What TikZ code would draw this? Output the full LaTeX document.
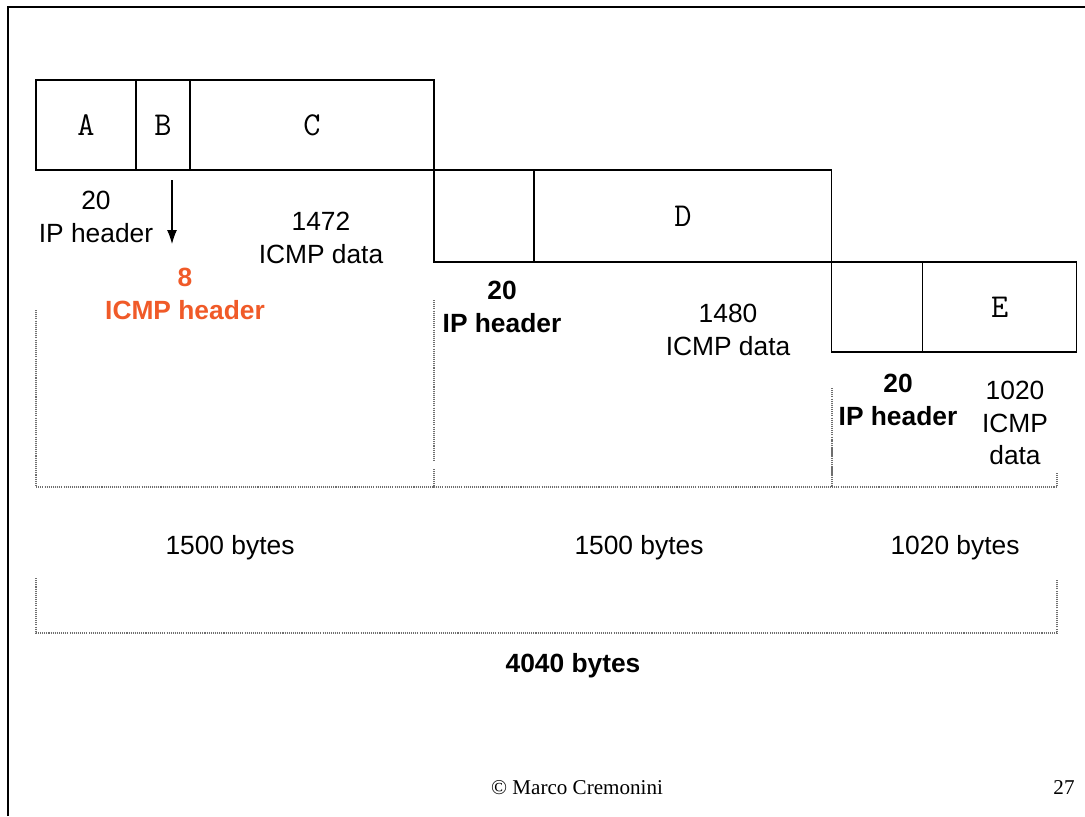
\documentclass[tikz,border=0pt]{standalone}
\usepackage{fontspec}
\setmainfont{Liberation Sans}
\newfontfamily\timesfont{Liberation Serif}
\usetikzlibrary{arrows.meta,positioning}
\definecolor{hdrorange}{HTML}{F05A28}
\definecolor{spangray}{HTML}{6E6E6E}

\begin{document}
\begin{tikzpicture}[x=0.02cm,y=-0.02cm,
        every node/.style={font=\fontsize{15}{18.7}\selectfont,align=center},
        frag/.style={draw,line width=0.7pt,inner sep=0pt,outer sep=0pt,minimum height=1.8cm,
                font=\ttfamily\fontsize{19}{22}\selectfont},
        hdr/.style={font=\bfseries\fontsize{15}{18.7}\selectfont},
        span/.style={dash pattern=on 0.6pt off 0.6pt,line width=0.6pt,spangray},
        pointer/.style={-{Latex[length=2.8mm,width=2mm]},line width=0.6pt}]

        \useasboundingbox (0,0) rectangle (1085,816);
        \draw[line width=1.2pt] (8,816) -- (8,7) -- (1085,7);

        % first fragment
        \node[frag,minimum width=2cm] (fragA) at (86,125) {A};
        \node[frag,minimum width=1.08cm,right=0pt of fragA] (fragB) {B};
        \node[frag,minimum width=4.88cm,right=0pt of fragB] (fragC) {C};

        % second fragment
        \node[frag,minimum width=2cm,minimum height=1.84cm,anchor=north west] (hdrD) at (fragC.south east) {};
        \node[frag,minimum width=5.96cm,minimum height=1.84cm,right=0pt of hdrD] (fragD) {D};

        % third fragment
        \node[frag,minimum width=1.82cm,anchor=north west] (hdrE) at (fragD.south east) {};
        \node[frag,minimum width=3.08cm,right=0pt of hdrE] (fragE) {E};

        \node (ipA) at (96,217) {20\\IP header};
        \node (dataC) at (321,238) {1472\\ICMP data};
        \node[hdr,text=hdrorange] (icmpB) at (185,294) {8\\ICMP header};
        \node[hdr] (ipD) at (502,307) {20\\IP header};
        \node (dataD) at (728,330) {1480\\ICMP data};
        \node[hdr] (ipE) at (898,400) {20\\IP header};
        \node (dataE) at (1015,423) {1020\\ICMP\\data};

        \coordinate (ptrtop) at (172,180);
        \coordinate (ptrend) at (172,244);
        \draw[pointer] (ptrtop) -- (ptrend);

        % byte spans
        \draw[span] (36,310) -- (36,487) -- (434,487) -- (434,468);
        \draw[span] (434,300) -- (434,462);
        \draw[span] (434,487) -- (832,487) -- (832,440);
        \draw[span] (832,388) -- (832,487) -- (1057,487) -- (1057,472);
        \draw[span] (36,578) -- (36,633) -- (1057,633) -- (1057,580);

        \node (len1) at (230,548) {1500 bytes};
        \node (len2) at (639,548) {1500 bytes};
        \node (len3) at (955,548) {1020 bytes};
        \node[hdr] (total) at (573,666) {4040 bytes};

        \node[font=\timesfont\fontsize{12}{14}\selectfont] (author) at (577,788) {\textcopyright{} Marco Cremonini};
        \node[font=\timesfont\fontsize{12}{14}\selectfont] (pageno) at (1064,788) {27};
\end{tikzpicture}
\end{document}
